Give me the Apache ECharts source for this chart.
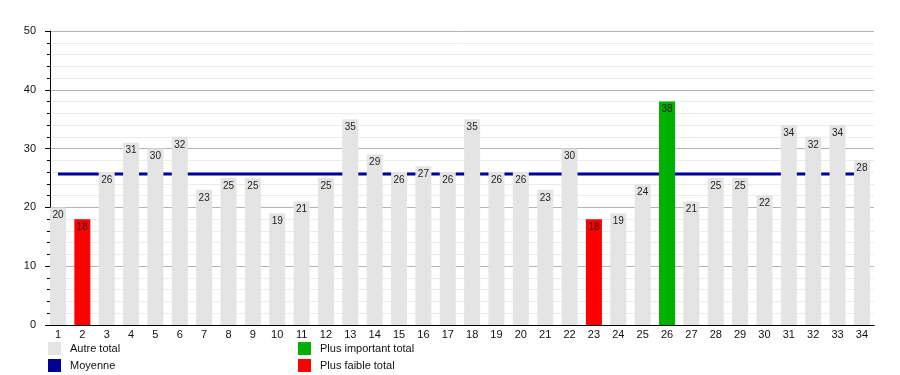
<!DOCTYPE html>
<html><head><meta charset="utf-8">
<script src="https://cdn.jsdelivr.net/npm/echarts@6/dist/echarts.min.js"></script>
<style>html,body{margin:0;padding:0;background:#fff}#c{width:900px;height:375px}</style>
</head><body><div id="c"></div>
<script>
const categories = ["1","2","3","4","5","6","7","8","9","10","11","12","13","14","15","16","17","18","19","20","21","22","23","24","25","26","27","28","29","30","31","32","33","34"];
const totals = [20,18,26,31,30,32,23,25,25,19,21,25,35,29,26,27,26,35,26,26,23,30,18,19,24,38,21,25,25,22,34,32,34,28];
const meanValue = 25.7;
const yTicks = [0,10,20,30,40,50];
const names = {other:"Autre total", mean:"Moyenne", max:"Plus important total", min:"Plus faible total"};
const colors = {other:"#e4e4e4", mean:"#000099", max:"#00b000", min:"#ff0000"};

const maxV = Math.max(...totals), minV = Math.min(...totals);
const other = totals.map(v => (v!==maxV && v!==minV) ? v : null);
const maxS = totals.map(v => v===maxV ? v : null);
const minS = totals.map(v => v===minV ? v : null);
const font = "'Liberation Sans', Arial, sans-serif";
const lbl = {show:true, position:'insideTop', distance:3, fontSize:10, color:'#222',
  textBorderWidth:0, textBorderColor:'transparent', fontFamily:font};
function bar(name, data, color){
  return {name, type:'bar', data, barWidth:16, barGap:'-100%', z:3,
    itemStyle:{color}, label:lbl, emphasis:{disabled:true}};
}
const chart = echarts.init(document.getElementById('c'), null, {renderer:'canvas'});
chart.setOption({
  animation:false,
  textStyle:{fontFamily:font},
  grid:{left:45.8, right:25.9, top:31, bottom:50, containLabel:false},
  xAxis:{type:'category', data:categories, boundaryGap:true,
    axisLine:{lineStyle:{color:'#000', width:1}}, axisTick:{show:false},
    axisLabel:{color:'#111', fontSize:11, margin:4, fontFamily:font}},
  yAxis:{type:'value', min:yTicks[0], max:yTicks[yTicks.length-1], interval:10, offset:-4.2,
    axisLine:{show:true, lineStyle:{color:'#000'}},
    axisTick:{show:true, length:5, lineStyle:{color:'#000'}},
    minorTick:{show:true, splitNumber:5, length:3, lineStyle:{color:'#000'}},
    splitLine:{lineStyle:{color:'#b4b4b4'}},
    minorSplitLine:{show:true, lineStyle:{color:'#ebebeb'}},
    axisLabel:{color:'#111', fontSize:11, margin:14, fontFamily:font}},
  legend:[
    {orient:'vertical', left:48, top:342, padding:0, height:40, itemWidth:13, itemHeight:13, itemGap:4, icon:'rect',
     data:[names.other, names.mean], selectedMode:false,
     textStyle:{fontSize:11, color:'#111', padding:[0,0,0,4]}},
    {orient:'vertical', left:298, top:342, padding:0, height:40, itemWidth:13, itemHeight:13, itemGap:4, icon:'rect',
     data:[names.max, names.min], selectedMode:false,
     textStyle:{fontSize:11, color:'#111', padding:[0,0,0,4]}}
  ],
  series:[
    {name:names.mean, type:'line', data:categories.map(()=>meanValue), symbol:'none', z:2,
     lineStyle:{color:colors.mean, width:3}, itemStyle:{color:colors.mean}, silent:true},
    bar(names.other, other, colors.other),
    bar(names.max, maxS, colors.max),
    bar(names.min, minS, colors.min)
  ]
});
</script></body></html>
